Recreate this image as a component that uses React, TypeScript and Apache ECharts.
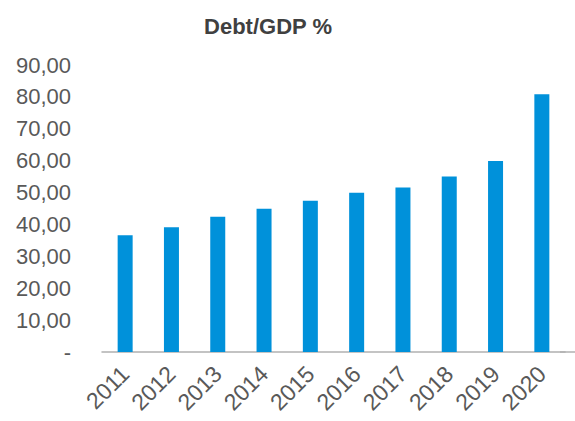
import React, { useEffect, useRef } from "react";
import * as echarts from "echarts";

const title = "Debt/GDP %";
const years = ["2011", "2012", "2013", "2014", "2015", "2016", "2017", "2018", "2019", "2020"];
const debtToGdp = [36.6, 39.1, 42.4, 44.9, 47.4, 49.9, 51.6, 55.0, 59.9, 80.8];

export default function App() {
  const ref = useRef<HTMLDivElement>(null);
  useEffect(() => {
    document.body.style.margin = "0";
    const chart = echarts.init(ref.current!, null, { renderer: "svg" });
    chart.setOption({
      animation: false,
      backgroundColor: "#ffffff",
      title: {
        text: title,
        left: 263,
        top: 10,
        textAlign: "center",
        textStyle: { fontFamily: "Liberation Sans", fontSize: 22, fontWeight: "bold", color: "#404040" },
      },
      grid: { left: 102, right: 10, top: 65, bottom: 69, containLabel: false },
      graphic: [
        {
          type: "line",
          shape: { x1: 560, y1: 352, x2: 575, y2: 352 },
          style: { stroke: "#b0b0b0", lineWidth: 1.5 },
        },
      ],
      xAxis: {
        type: "category",
        data: years,
        axisLine: { show: true, lineStyle: { color: "#b0b0b0", width: 1.5 } },
        axisTick: { show: false },
        axisLabel: {
          rotate: 45,
          margin: 18,
          fontFamily: "Liberation Sans",
          fontSize: 23,
          color: "#595959",
        },
      },
      yAxis: {
        type: "value",
        min: 0,
        max: 90,
        interval: 10,
        axisLine: { show: false },
        axisTick: { show: false },
        splitLine: { show: false },
        axisLabel: {
          margin: 31,
          fontFamily: "Liberation Sans",
          fontSize: 22,
          color: "#595959",
          formatter: (v: number) => (v === 0 ? "-" : v.toFixed(2).replace(".", ",")),
        },
      },
      series: [
        {
          type: "bar",
          data: debtToGdp,
          barWidth: 15,
          itemStyle: { color: "#0091DA" },
        },
      ],
    });
    return () => chart.dispose();
  }, []);
  return <div ref={ref} style={{ width: 575, height: 421 }} />;
}
